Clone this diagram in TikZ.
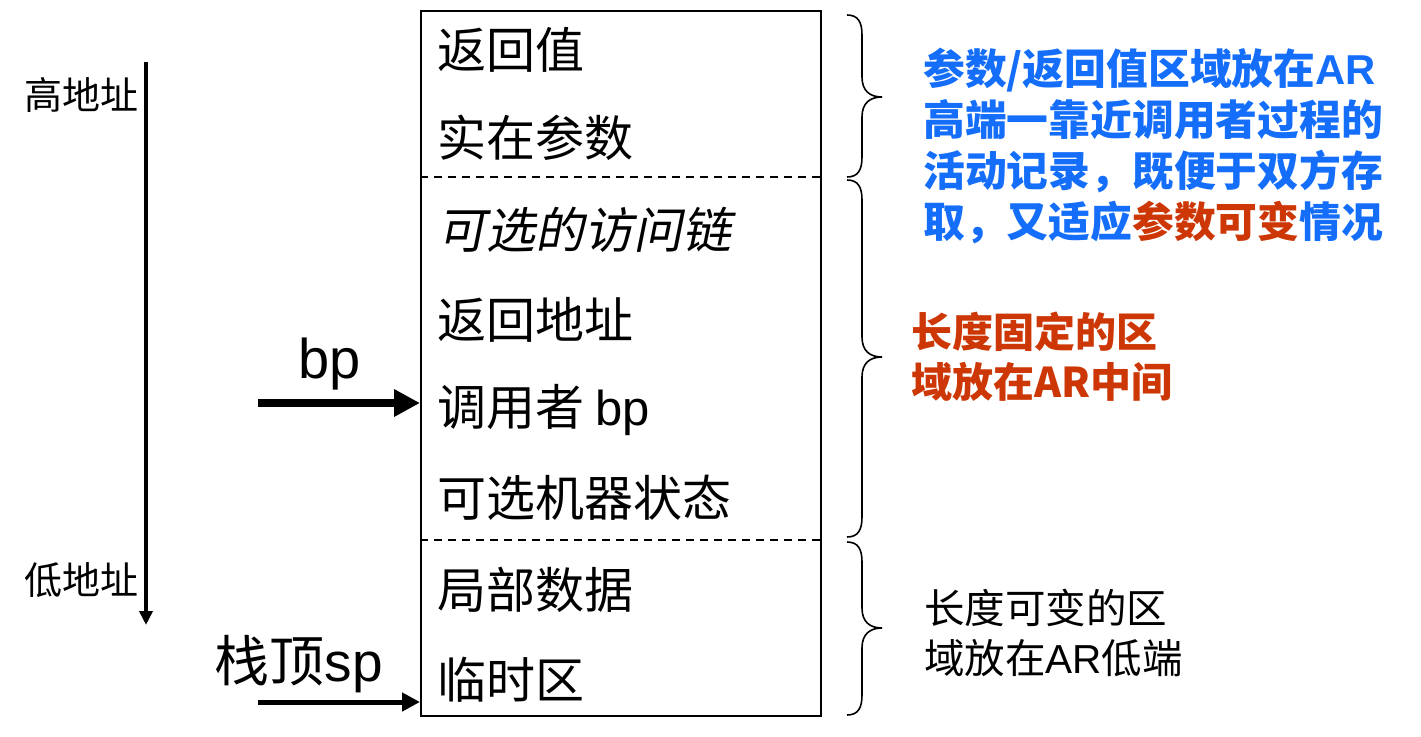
\documentclass[tikz,border=0pt]{standalone}
\usepackage{fontspec}
\setmainfont{Noto Sans CJK SC}
\newfontfamily\lat{Liberation Sans}
\newfontfamily\cjkit{Noto Sans CJK SC}[FakeSlant=0.2]
\usetikzlibrary{arrows.meta}
\definecolor{myblue}{RGB}{20,110,250}
\definecolor{myred}{RGB}{205,55,5}
\tikzset{
  cell/.style={anchor=west, inner sep=0pt, font=\fontsize{49}{52}\selectfont},
  side/.style={anchor=west, inner sep=0pt, font=\fontsize{38}{40}\selectfont},
  note/.style={anchor=west, inner sep=0pt, align=left},
  dashline/.style={dashed, dash pattern=on 8pt off 6pt, line width=1.8pt},
  curly/.style={line width=1.6pt},
  ptr/.style={line width=8pt, -{Triangle[length=26pt,width=26pt]}},
  ptrthin/.style={line width=5pt, -{Triangle[length=18pt,width=18pt]}}
}
\begin{document}
\begin{tikzpicture}[x=1pt,y=-1pt]
\useasboundingbox (0,0) rectangle (1421,736);
% activation record box
\node[draw, line width=2pt, minimum width=400pt, minimum height=705pt, inner sep=0pt] (ar) at (621,363.5) {};
\draw[dashline] (ar.west |- 0,177) -- (ar.east |- 0,177);
\draw[dashline] (ar.west |- 0,540) -- (ar.east |- 0,540);
% cell texts
\node[cell] (c1) at (437,50) {返回值};
\node[cell] (c2) at (437,138) {实在参数};
\node[cell] (c3) at (437,230) {\cjkit 可选的访问链};
\node[cell] (c4) at (437,320) {返回地址};
\node[cell] (c5) at (437,410) {调用者 {\lat bp}};
\node[cell] (c6) at (437,498) {可选机器状态};
\node[cell] (c7) at (437,590) {局部数据};
\node[cell] (c8) at (437,680) {临时区};
% left address direction
\node[side] (hi) at (24,95) {高地址};
\node[side] (lo) at (24,580) {低地址};
\coordinate (vtop) at (146,62);
\coordinate (vbot) at (146,625);
\draw[line width=4.5pt, -{Triangle[length=14pt,width=13pt]}] (vtop) -- (vbot);
% bp pointer
\node[inner sep=0pt, font=\lat\fontsize{56}{60}\selectfont] (bp) at (330,364) {bp};
\coordinate (bps) at (258,403);
\draw[ptr] (bps) -- (ar.west |- bps);
% sp pointer
\node[inner sep=0pt, font=\fontsize{55}{58}\selectfont] (sp) at (299,664) {栈顶{\lat sp}};
\coordinate (sps) at (258,702);
\draw[ptrthin] (sps) -- (ar.west |- sps);
% braces
\draw[curly] (847,15) .. controls (858,15) and (862,22) .. (862,35) -- (862,77)
  .. controls (862,91) and (870,97) .. (882,97) .. controls (870,97) and (862,103) .. (862,117)
  -- (862,157) .. controls (862,170) and (858,177) .. (847,177);
\draw[curly] (847,180) .. controls (858,180) and (862,187) .. (862,200) -- (862,337)
  .. controls (862,351) and (870,357) .. (882,357) .. controls (870,357) and (862,363) .. (862,377)
  -- (862,517) .. controls (862,530) and (858,537) .. (847,537);
\draw[curly] (847,542) .. controls (858,542) and (862,549) .. (862,562) -- (862,608)
  .. controls (862,622) and (870,628) .. (882,628) .. controls (870,628) and (862,634) .. (862,648)
  -- (862,695) .. controls (862,708) and (858,715) .. (847,715);
% notes
\node[note, text=myblue, font=\fontsize{41.8}{51}\selectfont\bfseries] (n1) at (923,146)
  {参数/返回值区域放在{\lat\bfseries AR}\\高端一靠近调用者过程的\\活动记录，既便于双方存\\取，又适应{\color{myred}参数可变}情况};
\node[note, text=myred, font=\fontsize{41}{50}\selectfont\bfseries] (n2) at (911,357)
  {长度固定的区\\域放在AR中间};
\node[note, text=black, font=\fontsize{40.5}{50}\selectfont] (n3) at (924,633)
  {长度可变的区\\域放在{\lat AR}低端};
\end{tikzpicture}
\end{document}
